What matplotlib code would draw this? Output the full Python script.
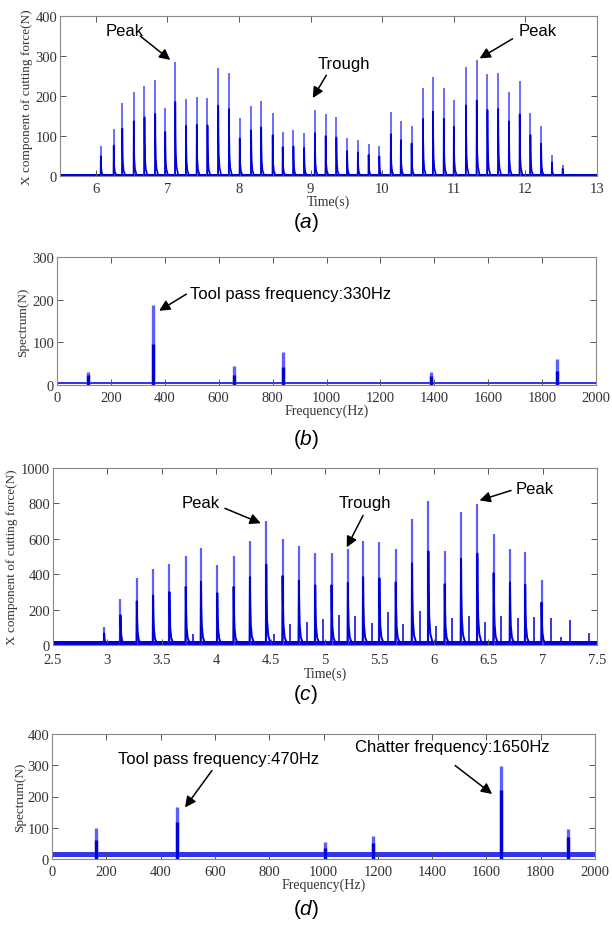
import matplotlib
matplotlib.use("Agg")
import matplotlib.pyplot as plt
import numpy as np

plt.rcParams['mathtext.fontset'] = 'custom'
plt.rcParams['mathtext.it'] = 'Liberation Sans:italic'
plt.rcParams['mathtext.rm'] = 'Liberation Sans'

# ---- (a) stable cutting force, pulse peaks ----
a_times = [6.07, 6.25, 6.37, 6.53, 6.68, 6.83, 6.97, 7.11, 7.26, 7.41, 7.56,
           7.71, 7.86, 8.01, 8.17, 8.31, 8.47, 8.61, 8.76, 8.91, 9.06, 9.21,
           9.36, 9.51, 9.66, 9.81, 9.96, 10.12, 10.26, 10.41, 10.57, 10.71,
           10.86, 11.00, 11.17, 11.32, 11.47, 11.62, 11.77, 11.92, 12.07,
           12.22, 12.37, 12.52]
a_peaks = [76, 117, 182, 211, 226, 239, 170, 285, 193, 197, 195, 271, 258,
           144, 176, 187, 157, 111, 114, 108, 165, 154, 148, 96, 91, 81, 76,
           161, 138, 125, 220, 248, 220, 190, 272, 290, 254, 258, 210, 237,
           158, 125, 52, 28]
a_noise = 6

# ---- (b) spectrum of (a) ----
b_freqs = [116, 357, 657, 840, 1388, 1855]
b_peaks = [30, 187, 44, 78, 30, 60]
b_inner = [24, 95, 24, 42, 20, 32]
b_noise = (2, 8)

# ---- (c) chatter cutting force ----
c_times = [2.97, 3.12, 3.27, 3.42, 3.57, 3.72, 3.86, 4.01, 4.16, 4.31, 4.46,
           4.61, 4.76, 4.91, 5.06, 5.21, 5.35, 5.50, 5.65, 5.80, 5.95, 6.10,
           6.25, 6.40, 6.55, 6.70, 6.84, 6.99]
c_peaks = [100, 260, 380, 430, 460, 505, 550, 450, 505, 590, 700, 600, 560,
           520, 520, 540, 590, 580, 545, 710, 815, 530, 750, 795, 625, 545,
           525, 370]
c_small_times = [3.79, 4.53, 4.68, 4.83, 4.98, 5.13, 5.28, 5.43, 5.58, 5.72,
                 5.87, 6.02, 6.17, 6.32, 6.47, 6.62, 6.77, 6.92, 7.08, 7.17,
                 7.25, 7.43]
c_small_peaks = [60, 60, 120, 130, 145, 170, 165, 125, 185, 120, 190, 110,
                 150, 165, 130, 165, 150, 160, 150, 45, 140, 70]
c_noise = 22

# ---- (d) spectrum of (c) ----
d_freqs = [162, 462, 1005, 1184, 1655, 1900]
d_peaks = [98, 168, 55, 74, 298, 96]
d_inner = [60, 120, 35, 50, 220, 70]
d_noise = (8, 22)

LIGHT = '#5f5fff'
DARK = '#0000d8'
pulse_dx = np.array([-0.003, 0.0, 0.003, 0.008, 0.018, 0.04])
pulse_shape = np.array([0.0, 1.0, 0.6, 0.3, 0.12, 0.02])


def style_axes(ax, xlim, ylim, xticks, yticks, xlabels, xlab, ylab, ylab_pad, xpad=4):
    ax.set_xlim(*xlim)
    ax.set_ylim(*ylim)
    ax.set_xticks(xticks)
    ax.set_xticklabels(xlabels)
    ax.set_yticks(yticks)
    ax.tick_params(direction='in', top=True, right=True, length=4, width=0.7,
                   colors='#555555', labelcolor='#333333', labelsize=10.5, pad=2)
    ax.tick_params(axis='x', pad=xpad)
    for lab in ax.get_xticklabels() + ax.get_yticklabels():
        lab.set_family('Liberation Serif')
    for sp in ax.spines.values():
        sp.set_color('#888888')
        sp.set_linewidth(0.8)
    ax.set_xlabel(xlab, family='Liberation Serif', fontsize=10, color='#333333', labelpad=0)
    ax.set_ylabel(ylab, family='Liberation Serif', fontsize=9.5, color='#333333', labelpad=ylab_pad)


def draw_pulses(ax, times, peaks, lw_light=1.3, lw_dark=1.2):
    ax.vlines(times, 0, peaks, color=LIGHT, lw=lw_light)
    for t, h in zip(times, peaks):
        ax.plot(t + pulse_dx, h * pulse_shape * 0.65, color=DARK, lw=lw_dark)


def draw_spectrum(ax, freqs, peaks, inner, noise):
    ax.fill_between([0, 2000], noise[0], noise[1], color='#3535ec', lw=0)
    ax.vlines(freqs, 0, peaks, color=LIGHT, lw=2.4)
    ax.vlines(freqs, 0, inner, color=DARK, lw=2.4)


def panel_label(fig, y, letter):
    fig.text(0.5, y, '(' + r'$\mathit{' + letter + '}$' + ')', ha='center', va='center',
             family='Liberation Sans', fontsize=15)


W, H = 612, 928
fig = plt.figure(figsize=(W / 100, H / 100), dpi=100)


def add_axes(l, r, t, b):
    return fig.add_axes([l / W, 1 - b / H, (r - l) / W, (b - t) / H])


ann = dict(fontsize=12, family='Liberation Sans', ha='center', va='center')
arrow = dict(arrowstyle='-|>', color='black', lw=1.1, mutation_scale=16,
             shrinkA=0, shrinkB=0)

# (a)
ax = add_axes(60, 597, 17, 177)
ax.fill_between([5.5, 13], 0, a_noise, color=DARK, lw=0)
draw_pulses(ax, a_times, a_peaks)
style_axes(ax, (5.5, 13), (0, 400), range(6, 14), range(0, 401, 100),
           [str(v) for v in range(6, 14)], 'Time(s)',
           'X component of cutting force(N)', 2)
ax.annotate('', xy=(7.04, 290), xytext=(6.62, 350), arrowprops=arrow)
ax.text(6.4, 365, 'Peak', **ann)
ax.annotate('', xy=(9.03, 195), xytext=(9.22, 252), arrowprops=arrow)
ax.text(9.46, 282, 'Trough', **ann)
ax.annotate('', xy=(11.36, 294), xytext=(11.82, 343), arrowprops=arrow)
ax.text(12.17, 365, 'Peak', **ann)
panel_label(fig, 1 - 222 / H, 'a')

# (b)
ax = add_axes(57, 596, 258, 386)
draw_spectrum(ax, b_freqs, b_peaks, b_inner, b_noise)
style_axes(ax, (0, 2000), (0, 300), range(0, 2001, 200), range(0, 301, 100),
           [str(v) for v in range(0, 2001, 200)], 'Frequency(Hz)', 'Spectrum(N)', 2)
ax.annotate('', xy=(379, 174), xytext=(480, 213), arrowprops=arrow)
ax.text(495, 215, 'Tool pass frequency:330Hz', fontsize=12, family='Liberation Sans',
        ha='left', va='center')
panel_label(fig, 1 - 440 / H, 'b')

# (c)
ax = add_axes(53, 597, 469, 646)
ax.fill_between([2.5, 7.5], 0, c_noise, color=DARK, lw=0)
draw_pulses(ax, c_times, c_peaks, lw_light=1.6, lw_dark=1.4)
ax.vlines(c_small_times, 0, c_small_peaks, color=DARK, lw=1.1)
style_axes(ax, (2.5, 7.5), (0, 1000), np.arange(2.5, 7.51, 0.5), range(0, 1001, 200),
           ['2.5', '3', '3.5', '4', '4.5', '5', '5.5', '6', '6.5', '7', '7.5'],
           'Time(s)', 'X component of cutting force(N)', 2, xpad=6)
ax.annotate('', xy=(4.41, 688), xytext=(4.08, 772), arrowprops=arrow)
ax.text(3.86, 807, 'Peak', **ann)
ax.annotate('', xy=(5.2, 552), xytext=(5.35, 732), arrowprops=arrow)
ax.text(5.37, 807, 'Trough', **ann)
ax.annotate('', xy=(6.42, 817), xytext=(6.71, 873), arrowprops=arrow)
ax.text(6.93, 885, 'Peak', **ann)
panel_label(fig, 1 - 695 / H, 'c')

# (d)
ax = add_axes(52, 595, 735, 860)
draw_spectrum(ax, d_freqs, d_peaks, d_inner, d_noise)
style_axes(ax, (0, 2000), (0, 400), range(0, 2001, 200), range(0, 401, 100),
           [str(v) for v in range(0, 2001, 200)], 'Frequency(Hz)', 'Spectrum(N)', 1)
ax.annotate('', xy=(490, 165), xytext=(589, 283), arrowprops=arrow)
ax.text(613, 320, 'Tool pass frequency:470Hz', **ann)
ax.annotate('', xy=(1621, 208), xytext=(1485, 299), arrowprops=arrow)
ax.text(1473, 361, 'Chatter frequency:1650Hz', **ann)
panel_label(fig, 1 - 910 / H, 'd')

fig.savefig('out.png', dpi=100, facecolor='white')
